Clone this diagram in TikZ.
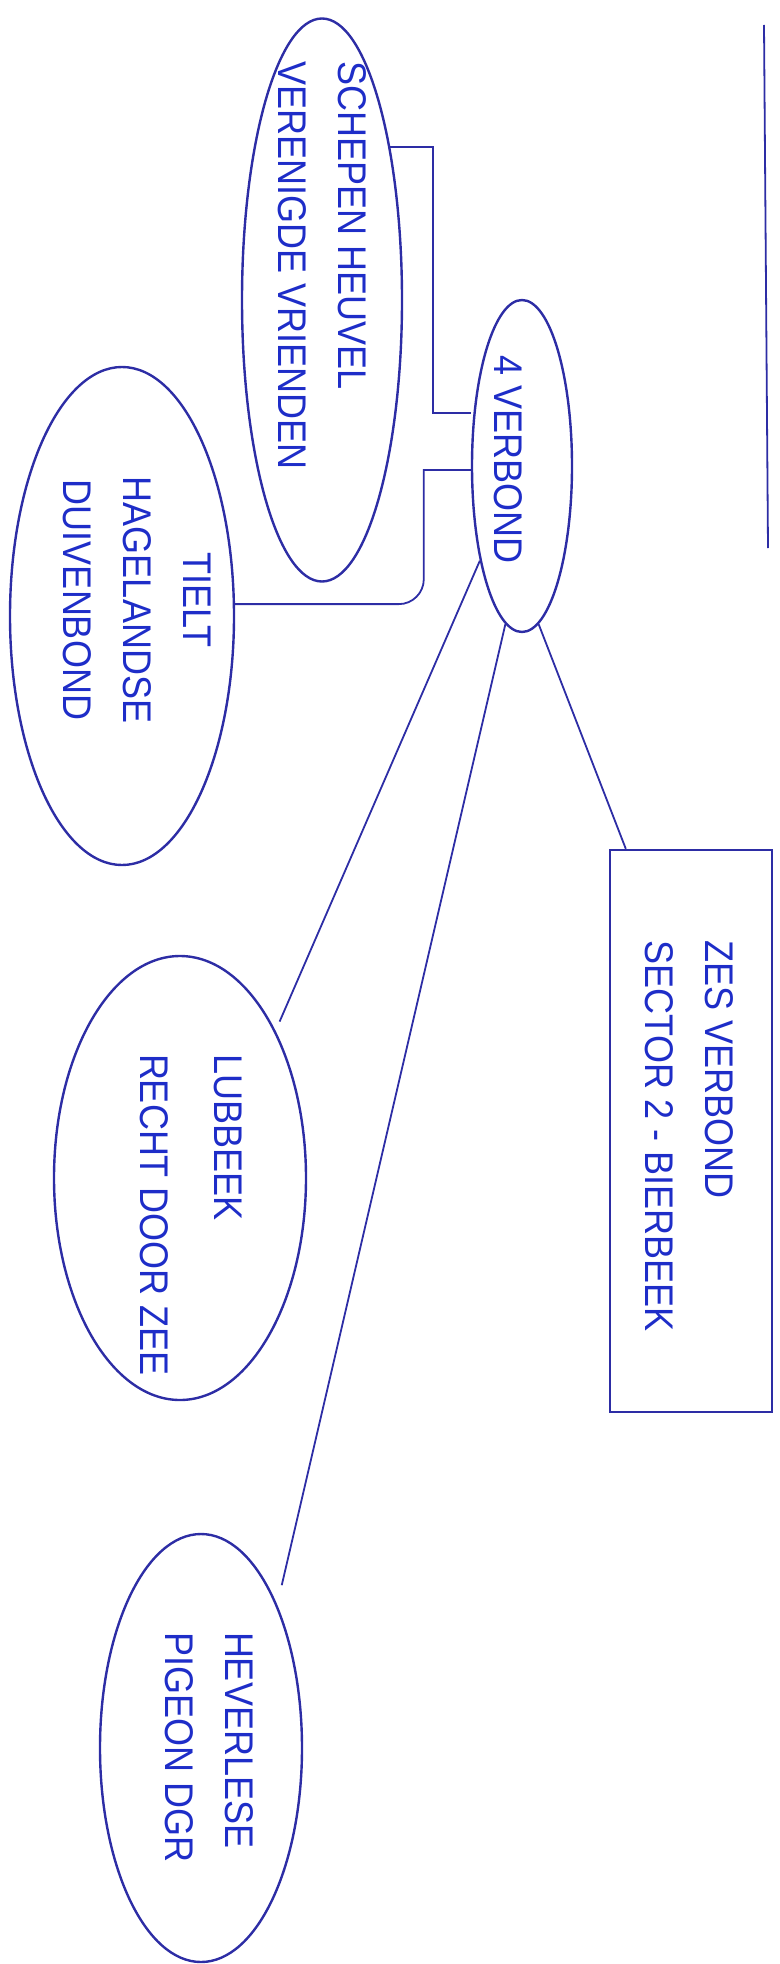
\documentclass[tikz,border=0pt]{standalone}
\usepackage{fontspec}
\setmainfont{Liberation Sans}[FakeStretch=0.9]
\usetikzlibrary{shapes.geometric}
\definecolor{inkline}{RGB}{45,45,165}
\definecolor{inktext}{RGB}{30,45,200}
\tikzset{>=stealth}

\begin{document}
\begin{tikzpicture}[x=1pt,y=-1pt,
    club/.style={draw=inkline, line width=2.4pt, ellipse, inner sep=0pt},
    clubbox/.style={draw=inkline, line width=2.4pt, rectangle, inner sep=0pt},
    clubtext/.style={text=inktext, rotate=-90, font=\fontsize{40}{60}\selectfont, align=left, inner sep=0pt},
    link/.style={draw=inkline, line width=1.8pt}]
    \useasboundingbox (0,0) rectangle (779,1964);
    % the federation in the middle
    \node[club, minimum width=100pt, minimum height=332pt] (verbond) at (522,466) {};
    \node[clubtext] (verbondtext) at (508,460) {4 VERBOND};
    % the clubs round it
    \node[club, minimum width=160pt, minimum height=563pt] (schepen) at (322,300) {};
    \node[clubtext] (schepentext) at (322,266) {SCHEPEN HEUVEL\\VERENIGDE VRIENDEN};
    \node[club, minimum width=224pt, minimum height=498pt] (tielt) at (122,616) {};
    \node[clubtext, align=center] (tielttext) at (137,600) {TIELT\\HAGELANDSE\\DUIVENBOND};
    \node[clubbox, minimum width=162pt, minimum height=562pt] (zes) at (691,1131) {};
    \node[clubtext] (zestext) at (689,1136) {ZES VERBOND\\SECTOR 2 - BIERBEEK};
    \node[club, minimum width=252pt, minimum height=444pt] (lubbeek) at (180,1178) {};
    \node[clubtext] (lubbeektext) at (191,1215) {LUBBEEK\\[14pt]RECHT DOOR ZEE};
    \node[club, minimum width=202pt, minimum height=428pt] (heverlese) at (201,1748) {};
    \node[clubtext] (heverlesetext) at (209,1747) {HEVERLESE\\PIGEON DGR};
    % connectors
    \draw[link] ([yshift=53pt]verbond.west) -- ++(-38,0) |- (schepen.66);
    \draw[link] ([yshift=-4pt]verbond.west) -- ++(-47,0) [rounded corners=25pt] |- (tielt.6);
    \draw[link, shorten >=10pt] (verbond.246) -- (lubbeek.57);
    \draw[link, shorten >=20pt] (verbond.264) -- (heverlese.62);
    \draw[link] (verbond.276) -- ([xshift=17pt]zes.north west);
    % loose stroke on the right
    \coordinate (stroketop) at (764,25);
    \coordinate (strokebottom) at (768,548);
    \draw[link] (stroketop) -- (strokebottom);
\end{tikzpicture}
\end{document}
